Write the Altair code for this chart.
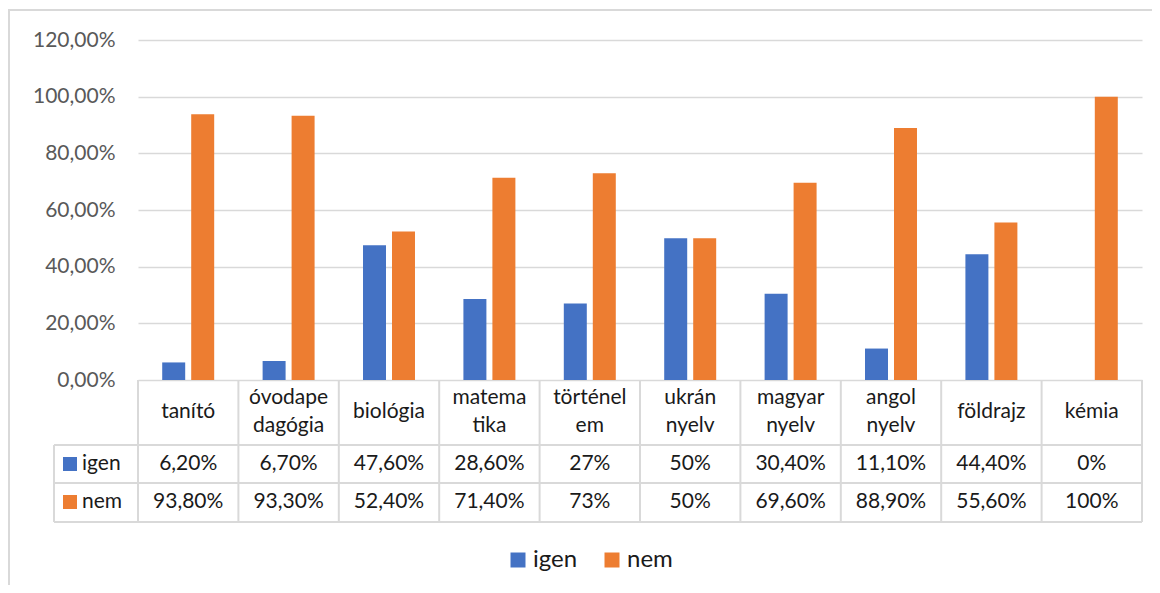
import altair as alt
import pandas as pd

categories = ["tanító", "óvodapedagógia", "biológia", "matematika", "történelem",
              "ukrán nyelv", "magyar nyelv", "angol nyelv", "földrajz", "kémia"]
header_labels = ["tanító", "óvodape\ndagógia", "biológia", "matema\ntika", "történel\nem",
                 "ukrán\nnyelv", "magyar\nnyelv", "angol\nnyelv", "földrajz", "kémia"]
series = ["igen", "nem"]
igen = [0.062, 0.067, 0.476, 0.286, 0.27, 0.50, 0.304, 0.111, 0.444, 0.0]
nem = [0.938, 0.933, 0.524, 0.714, 0.73, 0.50, 0.696, 0.889, 0.556, 1.0]
igen_txt = ["6,20%", "6,70%", "47,60%", "28,60%", "27%", "50%", "30,40%", "11,10%", "44,40%", "0%"]
nem_txt = ["93,80%", "93,30%", "52,40%", "71,40%", "73%", "50%", "69,60%", "88,90%", "55,60%", "100%"]
y_ticks = [0, 0.2, 0.4, 0.6, 0.8, 1.0, 1.2]
colors = ["#4472C4", "#ED7D31"]

rows = []
for i, c in enumerate(categories):
    rows.append({"category": c, "series": "igen", "value": igen[i], "label": igen_txt[i]})
    rows.append({"category": c, "series": "nem", "value": nem[i], "label": nem_txt[i]})
df = pd.DataFrame(rows)
hdr = pd.DataFrame({"category": categories, "header": header_labels})
ser = pd.DataFrame({"series": series})
one = pd.DataFrame({"a": [0]})

W = 1004
PH = 340      # bar plot height
TH = 142      # table height
H = PH + TH
FONT = "Lato"
GRID = "#d9d9d9"
TXT = "#1a1a1a"
LH = 28

xenc = alt.X("category:N", sort=categories,
             scale=alt.Scale(domain=categories, paddingInner=0, paddingOuter=0), axis=None)
color = alt.Color("series:N", scale=alt.Scale(domain=series, range=colors),
                  legend=alt.Legend(title=None, orient="none", legendX=368, legendY=508,
                                    direction="horizontal", symbolType="square",
                                    symbolSize=225, symbolStrokeWidth=0,
                                    labelFontSize=24, labelFont=FONT, labelColor=TXT,
                                    labelOffset=3, columnPadding=22, padding=0))

bars = alt.Chart(df).mark_bar().encode(
    x=xenc,
    xOffset=alt.XOffset("series:N", sort=series,
                        scale=alt.Scale(domain=series, paddingInner=0.207, paddingOuter=0.835)),
    y=alt.Y("value:Q", scale=alt.Scale(domain=[0, 1.2], range=[PH, 0], nice=False),
            axis=alt.Axis(values=y_ticks, title=None, domain=False, ticks=False,
                          grid=True, gridColor=GRID, gridWidth=1.5,
                          labelExpr="replace(format(datum.value, '.2%'), '.', ',')",
                          labelFont=FONT, labelFontSize=21, labelColor="#595959",
                          labelPadding=23)),
    color=color,
)

rowscale = alt.Scale(type="point", domain=series, range=[PH + 84, PH + 122], padding=0)

vals = alt.Chart(df).mark_text(font=FONT, fontSize=21, color=TXT, baseline="middle").encode(
    x=xenc,
    y=alt.Y("series:N", scale=rowscale, axis=None),
    text="label:N",
)

heads1 = alt.Chart(hdr).transform_filter(
    "indexof(datum.header, '\\n') < 0"
).mark_text(font=FONT, fontSize=21, color=TXT, baseline="middle").encode(
    x=xenc,
    y=alt.value(PH + 32),
    text="header:N",
)
heads2 = alt.Chart(hdr).transform_filter(
    "indexof(datum.header, '\\n') >= 0"
).mark_text(font=FONT, fontSize=21, color=TXT, baseline="middle",
            lineBreak="\n", lineHeight=LH).encode(
    x=xenc,
    y=alt.value(PH + 32 - LH / 2),
    text="header:N",
)

keys = alt.Chart(ser).mark_point(shape="square", filled=True, size=196, opacity=1).encode(
    x=alt.value(-68),
    y=alt.Y("series:N", scale=rowscale, axis=None),
    color=color,
)
keylabels = alt.Chart(ser).mark_text(font=FONT, fontSize=21, color=TXT, align="left",
                                     baseline="middle").encode(
    x=alt.value(-56),
    y=alt.Y("series:N", scale=rowscale, axis=None),
    text="series:N",
)

vlines = alt.Chart(hdr).mark_rule(color=GRID, strokeWidth=2).encode(
    x=alt.X("category:N", sort=categories, bandPosition=0,
            scale=alt.Scale(domain=categories, paddingInner=0, paddingOuter=0), axis=None),
    y=alt.value(PH), y2=alt.value(H),
)
edge_r = alt.Chart(one).mark_rule(color=GRID, strokeWidth=2).encode(
    x=alt.value(W), y=alt.value(PH), y2=alt.value(H))
edge_l = alt.Chart(one).mark_rule(color=GRID, strokeWidth=2).encode(
    x=alt.value(-84), y=alt.value(PH + 65), y2=alt.value(H))
h1 = alt.Chart(one).mark_rule(color=GRID, strokeWidth=2).encode(
    x=alt.value(-84), x2=alt.value(W), y=alt.value(PH + 65))
h2 = alt.Chart(one).mark_rule(color=GRID, strokeWidth=2).encode(
    x=alt.value(-84), x2=alt.value(W), y=alt.value(PH + 103))
h3 = alt.Chart(one).mark_rule(color=GRID, strokeWidth=2).encode(
    x=alt.value(-84), x2=alt.value(W), y=alt.value(H))
frame = alt.Chart(one).mark_rect(filled=False, stroke=GRID, strokeWidth=2).encode(
    x=alt.value(-129), x2=alt.value(W + 40), y=alt.value(-30), y2=alt.value(H + 100))

chart = alt.layer(
    frame, bars, vlines, edge_r, edge_l, h1, h2, h3, vals, heads1, heads2, keys, keylabels
).resolve_scale(y="independent").properties(
    width=W, height=H,
    background="white",
    autosize=alt.AutoSizeParams(type="none"),
    padding={"left": 130, "top": 32, "right": 10, "bottom": 63},
).configure_view(strokeWidth=0, stroke="transparent")

chart.save("out.html", embed_options={"renderer": "svg", "actions": False})
